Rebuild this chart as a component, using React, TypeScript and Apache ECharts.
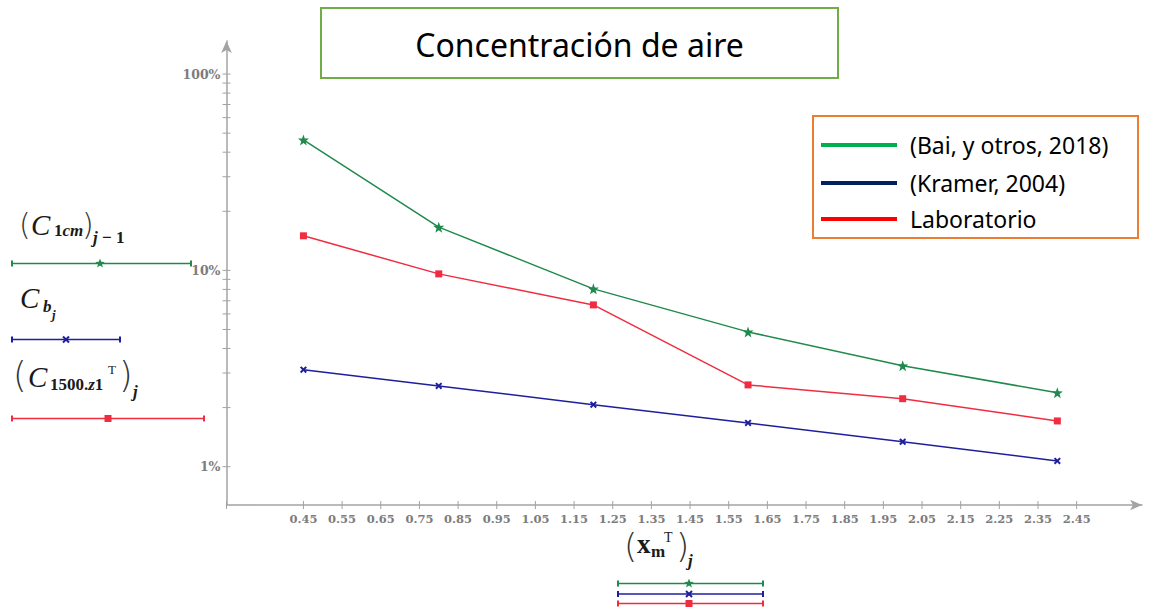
import React, { useEffect, useRef } from "react";
import * as echarts from "echarts";

// Sampling positions along the x axis and the three concentration traces (in %)
const xValues = [0.45, 0.8, 1.2, 1.6, 2.0, 2.4];
const baiValues = [46.2, 16.6, 8.05, 4.86, 3.27, 2.38];
const kramerValues = [3.12, 2.58, 2.07, 1.67, 1.34, 1.07];
const labValues = [15.0, 9.6, 6.67, 2.61, 2.22, 1.71];

// Axis ticks and labels
const xTickLabels = [0.45, 0.55, 0.65, 0.75, 0.85, 0.95, 1.05, 1.15, 1.25, 1.35, 1.45, 1.55, 1.65, 1.75, 1.85, 1.95, 2.05, 2.15, 2.25, 2.35, 2.45];
const yTickLabels = [1, 10, 100];
const yTickMarks = [1, 2, 3, 4, 5, 6, 7, 8, 9, 10, 20, 30, 40, 50, 60, 70, 80, 90, 100];

const X_MIN = 0.251;
const X_MAX = 2.619;
const Y_MIN = 0.638;
const Y_MAX = 147.4;

const GREEN = "#1f8a4c";
const BLUE = "#1f1f9e";
const RED = "#f02d40";
const AXIS = "#a3a3a3";
const LABEL = "#7c7c7c";
const SERIF_AXIS = '"DejaVu Serif", serif';
const MATH = '"Liberation Serif", "DejaVu Serif", serif';
const SANS = '"Noto Sans", "Open Sans", sans-serif';

const STAR = "path://M0,-10 L2.35,-3.24 L9.51,-3.09 L3.8,1.24 L5.88,8.09 L0,4 L-5.88,8.09 L-3.8,1.24 L-9.51,-3.09 L-2.35,-3.24 Z";
const CROSS = "path://M0,2 L2,0 L5,3 L8,0 L10,2 L7,5 L10,8 L8,10 L5,7 L2,10 L0,8 L3,5 Z";

function starPoints(cx: number, cy: number, r: number) {
  const pts: number[][] = [];
  for (let i = 0; i < 10; i++) {
    const rr = i % 2 === 0 ? r : r * 0.42;
    const a = -Math.PI / 2 + (i * Math.PI) / 5;
    pts.push([cx + rr * Math.cos(a), cy + rr * Math.sin(a)]);
  }
  return pts;
}

function marker(kind: string, cx: number, cy: number, color: string): any[] {
  if (kind === "star") {
    return [{ type: "polygon", shape: { points: starPoints(cx, cy, 5) }, style: { fill: color } }];
  }
  if (kind === "cross") {
    return [
      { type: "line", shape: { x1: cx - 3, y1: cy - 3, x2: cx + 3, y2: cy + 3 }, style: { stroke: color, lineWidth: 2 } },
      { type: "line", shape: { x1: cx - 3, y1: cy + 3, x2: cx + 3, y2: cy - 3 }, style: { stroke: color, lineWidth: 2 } },
    ];
  }
  return [{ type: "rect", shape: { x: cx - 3.5, y: cy - 3.5, width: 7, height: 7 }, style: { fill: color } }];
}

// A trace key: a line with end caps and the trace marker at mx
function traceKey(x1: number, x2: number, y: number, mx: number, color: string, kind: string): any[] {
  return [
    { type: "line", shape: { x1, y1: y, x2, y2: y }, style: { stroke: color, lineWidth: 1.6 } },
    { type: "line", shape: { x1, y1: y - 3, x2: x1, y2: y + 3 }, style: { stroke: color, lineWidth: 2 } },
    { type: "line", shape: { x1: x2, y1: y - 3, x2, y2: y + 3 }, style: { stroke: color, lineWidth: 2 } },
    ...marker(kind, mx, y, color),
  ];
}

function mt(x: number, y: number, text: string, size: number, italic = true, bold = true, extra: any = {}) {
  return {
    type: "text",
    x,
    y,
    style: {
      text,
      fontSize: size,
      fontFamily: MATH,
      fontStyle: italic ? "italic" : "normal",
      fontWeight: bold ? "bold" : "normal",
      fill: "#1a1a1a",
      align: "left",
      verticalAlign: "middle",
      ...extra,
    },
  };
}

const paren = (x: number, y: number, ch: string, size: number) =>
  mt(x, y, ch, size, false, false, { fill: "#333", fontFamily: '"DejaVu Sans", sans-serif', fontWeight: 200 });

const upright = { fontSize: 17, fontFamily: MATH, fontWeight: "bold", fontStyle: "normal" };
const slanted = { fontSize: 17, fontFamily: MATH, fontWeight: "bold", fontStyle: "italic" };

function buildGraphic(): any[] {
  const g: any[] = [];
  // Title box
  g.push({ type: "rect", shape: { x: 321, y: 8, width: 517, height: 70 }, style: { fill: "#fff", stroke: "#70ad47", lineWidth: 2 } });
  g.push({ type: "text", x: 579.5, y: 44, style: { text: "Concentración de aire", fontSize: 32, fontFamily: SANS, fill: "#000", align: "center", verticalAlign: "middle" } });

  // Reference legend box
  g.push({ type: "rect", shape: { x: 813, y: 116, width: 325, height: 122 }, style: { fill: "#fff", stroke: "#ed7d31", lineWidth: 2 } });
  const legendRows = [
    { y: 145, color: "#00b050", text: "(Bai, y otros, 2018)" },
    { y: 183, color: "#002060", text: "(Kramer, 2004)" },
    { y: 219, color: "#ff0000", text: "Laboratorio" },
  ];
  legendRows.forEach((r) => {
    g.push({ type: "line", shape: { x1: 821, y1: r.y, x2: 897, y2: r.y }, style: { stroke: r.color, lineWidth: 4 } });
    g.push({ type: "text", x: 910, y: r.y, style: { text: r.text, fontSize: 23, fontFamily: SANS, fill: "#000", align: "left", verticalAlign: "middle" } });
  });

  // Left trace labels
  // (C_1cm)_{j-1}
  g.push(paren(19, 224, "(", 30));
  g.push(mt(31, 225, "C", 29, true, false));
  g.push(mt(54, 230, "{a|1}{b|cm}", 17, true, true, { rich: { a: upright, b: slanted } }));
  g.push(paren(82, 224, ")", 30));
  g.push(mt(93, 237, "{b|j}{a| − 1}", 17, true, true, { rich: { a: upright, b: slanted } }));
  g.push(...traceKey(12, 191, 263.5, 100, GREEN, "star"));

  // C_{b_j}
  g.push(mt(20, 298, "C", 29, true, false));
  g.push(mt(43, 306, "b", 17));
  g.push(mt(52, 314, "j", 13));
  g.push(...traceKey(12, 120, 339.5, 66, BLUE, "cross"));

  // (C_1500.z1^T)_j
  g.push(paren(13, 375, "(", 35));
  g.push(mt(28, 377, "C", 29, true, false));
  g.push(mt(50, 384, "{a|1500.}{b|z}{a|1}", 17, true, true, { rich: { a: upright, b: slanted } }));
  g.push(mt(108, 369, "T", 13, false, false));
  g.push(paren(119, 375, ")", 35));
  g.push(mt(133, 391, "j", 17));
  g.push(...traceKey(12, 204, 418.5, 108, RED, "square"));

  // (x_m^T)_j under the x axis
  g.push(paren(624, 546, "(", 34));
  g.push(mt(637, 544, "x", 27, false, true));
  g.push(mt(651, 551, "m", 17, false, true));
  g.push(mt(664, 537, "T", 14, false, false));
  g.push(paren(676, 546, ")", 34));
  g.push(mt(688, 560, "j", 17));
  g.push(...traceKey(618, 763, 583.5, 689, GREEN, "star"));
  g.push(...traceKey(618, 763, 594, 689, BLUE, "cross"));
  g.push(...traceKey(618, 763, 603.5, 689, RED, "square"));
  return g;
}

function tickSeries(data: number[][], horizontal: boolean) {
  return {
    type: "custom",
    silent: true,
    clip: false,
    z: 3,
    data,
    renderItem: (_p: any, api: any) => {
      const p = api.coord([api.value(0), api.value(1)]);
      const shape = horizontal
        ? { x1: p[0] - 4, y1: p[1], x2: p[0] + 4, y2: p[1] }
        : { x1: p[0], y1: p[1] - 4, x2: p[0], y2: p[1] + 4 };
      return { type: "line", shape, style: { stroke: AXIS, lineWidth: 1 } };
    },
  };
}

function lineSeries(name: string, values: number[], color: string, symbol: string, size: number) {
  return {
    name,
    type: "line",
    data: xValues.map((x, i) => [x, values[i]]),
    symbol,
    symbolSize: size,
    showSymbol: true,
    lineStyle: { color, width: 1.5 },
    itemStyle: { color },
    z: 4,
  };
}

export default function App() {
  const ref = useRef<HTMLDivElement>(null);
  useEffect(() => {
    if (!ref.current) return;
    const chart = echarts.init(ref.current, undefined, { renderer: "svg" });
    chart.setOption({
      animation: false,
      backgroundColor: "#fff",
      grid: { left: 226.5, right: 9, top: 41, bottom: 106, containLabel: false },
      xAxis: {
        type: "value",
        min: X_MIN,
        max: X_MAX,
        axisLine: { show: true, onZero: false, lineStyle: { color: AXIS, width: 1.5 }, symbol: ["none", "arrow"], symbolSize: [8, 12] },
        axisTick: { show: false },
        splitLine: { show: false },
        axisLabel: {
          customValues: xTickLabels,
          formatter: (v: number) => v.toFixed(2),
          margin: 8,
          fontFamily: SERIF_AXIS,
          fontSize: 11.5,
          fontWeight: "bold",
          color: LABEL,
        },
      },
      yAxis: {
        type: "log",
        logBase: 10,
        min: Y_MIN,
        max: Y_MAX,
        axisLine: { show: true, lineStyle: { color: AXIS, width: 1.5 }, symbol: ["none", "arrow"], symbolSize: [8, 12] },
        axisTick: { show: false },
        splitLine: { show: false },
        axisLabel: {
          customValues: yTickLabels,
          formatter: (v: number) => `${Math.round(v)}%`,
          margin: 6,
          fontFamily: SERIF_AXIS,
          fontSize: 12.5,
          fontWeight: "bold",
          color: LABEL,
        },
      },
      series: [
        lineSeries("(Bai, y otros, 2018)", baiValues, GREEN, STAR, 11),
        lineSeries("(Kramer, 2004)", kramerValues, BLUE, CROSS, 7),
        lineSeries("Laboratorio", labValues, RED, "rect", 7),
        tickSeries(yTickMarks.map((v) => [X_MIN, v]), true),
        tickSeries([X_MIN, ...xTickLabels].map((v) => [v, Y_MIN]), false),
      ],
      graphic: buildGraphic(),
    });
    return () => chart.dispose();
  }, []);
  return <div ref={ref} style={{ position: "absolute", left: 0, top: 0, width: 1151, height: 611 }} />;
}
